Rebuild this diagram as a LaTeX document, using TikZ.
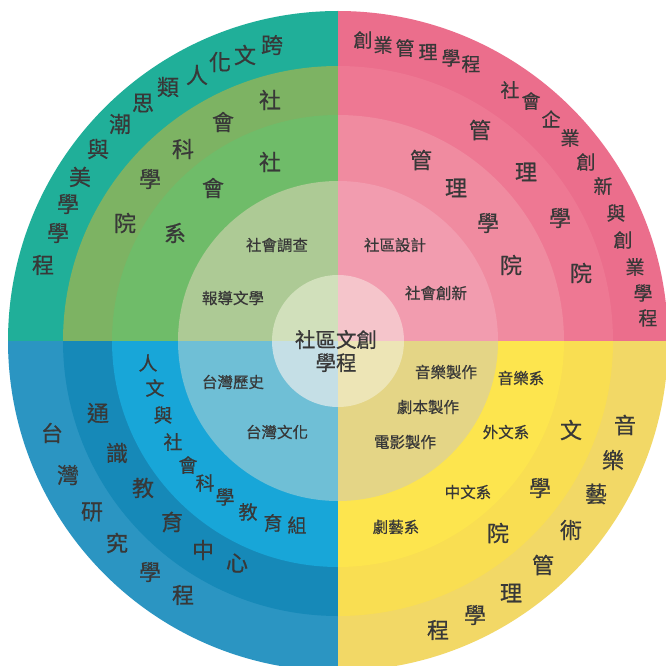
\documentclass[tikz,border=0pt]{standalone}
\usepackage{fontspec}
\newfontfamily\cjk[FakeBold=0.6]{Noto Sans CJK TC}
\definecolor{tA}{HTML}{20AF99}
\definecolor{tB}{HTML}{7DB363}
\definecolor{tC}{HTML}{6FBC69}
\definecolor{tD}{HTML}{ADCA95}
\definecolor{tE}{HTML}{D1E0BB}
\definecolor{pA}{HTML}{EB6E8C}
\definecolor{pB}{HTML}{EE7893}
\definecolor{pC}{HTML}{F08BA0}
\definecolor{pD}{HTML}{F29CAF}
\definecolor{pE}{HTML}{F5C5CB}
\definecolor{bA}{HTML}{2B95C2}
\definecolor{bB}{HTML}{1689B8}
\definecolor{bC}{HTML}{18A6D8}
\definecolor{bD}{HTML}{6FBFD6}
\definecolor{bE}{HTML}{C5DFE6}
\definecolor{yA}{HTML}{F2D866}
\definecolor{yB}{HTML}{F9DE52}
\definecolor{yC}{HTML}{FDE54E}
\definecolor{yD}{HTML}{E4D586}
\definecolor{yE}{HTML}{EDE5B6}
\definecolor{ink}{HTML}{383838}
\tikzset{
  glyph/.style={inner sep=0pt, text=ink},
  big/.style={glyph, font=\cjk\fontsize{22}{22}\selectfont},
  mid/.style={glyph, font=\cjk\fontsize{19}{19}\selectfont},
  lab/.style={glyph, font=\cjk\fontsize{15.5}{15.5}\selectfont},
  ctr/.style={glyph, font=\cjk\fontsize{20.5}{23}\selectfont, align=center}
}
\newcommand{\quadrant}[6]{%
  \begin{scope}
    \clip #1;
    \fill[#2] (338,341) circle[radius=330pt];
    \fill[#3] (338,341) circle[radius=275pt];
    \fill[#4] (338,341) circle[radius=226pt];
    \fill[#5] (338,341) circle[radius=160pt];
    \fill[#6] (338,341) circle[radius=66pt];
  \end{scope}}
\begin{document}
\begin{tikzpicture}[x=1pt,y=-1pt]
\useasboundingbox[clip] (0,0) rectangle (666,666);
\fill[white] (0,0) rectangle (666,666);
\quadrant{(0,0) rectangle (338,341)}{tA}{tB}{tC}{tD}{tE}
\quadrant{(338,0) rectangle (666,341)}{pA}{pB}{pC}{pD}{pE}
\quadrant{(0,341) rectangle (338,666)}{bA}{bB}{bC}{bD}{bE}
\quadrant{(338,341) rectangle (666,666)}{yA}{yB}{yC}{yD}{yE}
% top-left
\foreach \x/\y/\c [count=\i] in {272/45/跨,245/55/文,220/62/化,197/75/人,168/87/類,143/103/思,120/124/潮,98/149/與,80/177/美,68/204/學,58/233/學,43/265/程}
  \node[big] (tl\i) at (\x,\y) {\c};
\foreach \x/\y/\c [count=\i] in {270/100/社,223/122/會,183/149/科,150/179/學,125/223/院}
  \node[big] (tm\i) at (\x,\y) {\c};
\foreach \x/\y/\c [count=\i] in {270/162/社,213/188/會,175/233/系}
  \node[big] (ti\i) at (\x,\y) {\c};
\node[lab] (sdc) at (277,245) {社會調查};
\node[lab] (bdwx) at (233,298) {報導文學};
% top-right
\foreach \x/\y/\c [count=\i] in {363/40/創,383/45/業,405/48/管,428/52/理,451/58/學,471/64/程}
  \node[mid] (ra\i) at (\x,\y) {\c};
\foreach \x/\y/\c [count=\i] in {510/90/社,531/101/會,551/119/企,570/138/業,586/162/創,603/186/新,616/213/與,623/240/創,635/267/業,643/293/學,648/318/程}
  \node[mid] (rb\i) at (\x,\y) {\c};
\foreach \x/\y/\c [count=\i] in {480/130/管,526/172/理,560/218/學,581/273/院}
  \node[big] (rm\i) at (\x,\y) {\c};
\foreach \x/\y/\c [count=\i] in {421/160/管,456/188/理,488/223/學,511/265/院}
  \node[big] (ri\i) at (\x,\y) {\c};
\node[lab] (sqsj) at (395,245) {社區設計};
\node[lab] (shcx) at (436,293) {社會創新};
% bottom-left
\foreach \x/\y/\c [count=\i] in {52/433/台,68/475/灣,92/512/研,117/543/究,150/572/學,183/595/程}
  \node[big] (bo\i) at (\x,\y) {\c};
\foreach \x/\y/\c [count=\i] in {98/413/通,117/453/識,143/488/教,172/522/育,203/550/中,237/563/心}
  \node[big] (bm\i) at (\x,\y) {\c};
\foreach \x/\y/\c [count=\i] in {148/363/人,155/388/文,163/415/與,173/442/社,188/465/會,205/483/科,225/497/學,248/512/教,273/523/育,297/525/組}
  \node[mid] (bi\i) at (\x,\y) {\c};
\node[lab] (twls) at (233,382) {台灣歷史};
\node[lab] (twwh) at (277,432) {台灣文化};
% bottom-right
\node[lab] (yyzz) at (446,372) {音樂製作};
\node[lab] (jbzz) at (428,407) {劇本製作};
\node[lab] (dyzz) at (405,442) {電影製作};
\node[lab] (yyx) at (521,378) {音樂系};
\node[lab] (wwx) at (506,432) {外文系};
\node[lab] (zwx) at (468,492) {中文系};
\node[lab] (jyx) at (396,527) {劇藝系};
\foreach \x/\y/\c [count=\i] in {571/430/文,540/488/學,498/533/院}
  \node[big] (ym\i) at (\x,\y) {\c};
\foreach \x/\y/\c [count=\i] in {625/425/音,613/460/樂,596/494/藝,571/530/術,543/565/管,511/593/理,475/615/學,438/630/程}
  \node[big] (yo\i) at (\x,\y) {\c};
% centre
\node[ctr] (core) at (336,351) {社區文創\\學程};
\end{tikzpicture}
\end{document}
